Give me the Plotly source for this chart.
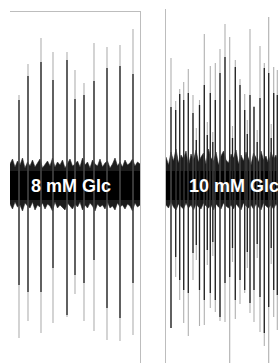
import plotly.graph_objects as go

# ---------------- data ----------------
# Panel 1: 8 mM glucose
glc8_spike_t = [9, 18, 31, 43, 57, 65, 74, 84, 97, 110, 123]
glc8_spike_peak = [95, 126, 152, 138, 138, 120, 107, 147, 143, 145, 161]
glc8_spike_trough = [-148, -131, -143, -133, -127, -104, -131, -141, -150, -151, -145]
glc8_core_peak = [90, 114, 128, 110, 130, 91, 95, 109, 122, 124, 116]
glc8_core_trough = [-95, -102, -102, -78, -125, -85, -93, -70, -118, -128, -93]
glc8_noise_t = [0, 2.5, 5, 7.5, 10, 12.5, 15, 17.5, 20, 22.5, 25, 27.5, 30, 32.5, 35, 37.5,
                40, 42.5, 45, 47.5, 50, 52.5, 55, 57.5, 60, 62.5, 65, 67.5, 70, 72.5, 75,
                77.5, 80, 82.5, 85, 87.5, 90, 92.5, 95, 97.5, 100, 102.5, 105, 107.5, 110,
                112.5, 115, 117.5, 120, 122.5, 125, 127.5, 130]
glc8_noise_hi = [26, 31, 23, 29, 25, 32, 22, 28, 24, 30, 23, 27, 31, 22, 26, 29, 24, 32, 23,
                 28, 25, 30, 22, 27, 31, 24, 26, 29, 23, 32, 25, 28, 22, 30, 26, 24, 31, 23,
                 27, 29, 22, 26, 32, 24, 28, 23, 30, 25, 27, 31, 24, 28, 26]
glc8_noise_lo = [-14, -19, -12, -17, -15, -21, -13, -16, -18, -12, -20, -15, -17, -13, -19,
                 -14, -16, -21, -12, -18, -15, -17, -20, -13, -16, -19, -14, -17, -12, -20,
                 -15, -18, -13, -16, -21, -14, -17, -15, -19, -12, -18, -16, -20, -13, -17,
                 -15, -19, -14, -16, -21, -13, -17, -15]
glc8_core_band = [19, -10]

# Panel 2: 10 mM glucose
glc10_spike_t = [5, 9.7, 13.7, 17.7, 22.3, 27, 30.3, 33.5, 38.3, 41.3, 44.3, 46.8, 49.3, 54,
                 59, 63.7, 66.5, 69.3, 74, 78.7, 81.3, 84, 88, 91.2, 94, 98.3, 102.7, 105.2,
                 107.7, 111.3]
glc10_spike_peak = [132, 89, 101, 108, 121, 95, 62, 90, 156, 68, 124, 58, 127, 141, 166, 153,
                    64, 130, 111, 96, 70, 161, 84, 60, 144, 127, 173, 66, 123, 120]
glc10_spike_trough = [-138, -87, -110, -133, -146, -90, -70, -136, -135, -75, -118, -66,
                      -122, -131, -132, -180, -72, -129, -114, -103, -78, -123, -132, -68,
                      -142, -156, -180, -74, -127, -140]
glc10_core_peak = [83, 80, 96, 90, 97, 77, 50, 85, 105, 55, 97, 48, 90, 117, 133, 90, 52, 123,
                   105, 80, 56, 95, 83, 48, 92, 122, 117, 52, 97, 95]
glc10_core_trough = [-138, -67, -90, -100, -103, -63, -55, -100, -110, -60, -103, -52, -110,
                     -127, -93, -87, -58, -110, -90, -100, -62, -113, -100, -54, -107, -143,
                     -117, -58, -100, -105]
glc10_noise_t = [0, 2.5, 5, 7.5, 10, 12.5, 15, 17.5, 20, 22.5, 25, 27.5, 30, 32.5, 35, 37.5,
                 40, 42.5, 45, 47.5, 50, 52.5, 55, 57.5, 60, 62.5, 65, 67.5, 70, 72.5, 75,
                 77.5, 80, 82.5, 85, 87.5, 90, 92.5, 95, 97.5, 100, 102.5, 105, 107.5, 110,
                 112]
glc10_noise_hi = [33, 25, 38, 29, 41, 27, 35, 31, 39, 24, 36, 30, 40, 28, 33, 37, 26, 41, 32,
                  29, 38, 25, 34, 39, 30, 27, 36, 32, 40, 26, 35, 29, 38, 31, 25, 37, 33, 28,
                  39, 30, 34, 26, 38, 31, 35, 29]
glc10_noise_lo = [-15, -18, -12, -17, -20, -14, -16, -19, -13, -18, -15, -20, -14, -17, -19,
                  -13, -16, -18, -15, -20, -14, -17, -19, -13, -16, -18, -15, -19, -14, -17,
                  -20, -13, -16, -18, -15, -19, -14, -17, -20, -13, -16, -18, -15, -19, -14,
                  -17]
glc10_core_band = [19, -10]

labels = ["8 mM Glc", "10 mM Glc"]


def segments(ts, a, b):
    xs, ys = [], []
    for t, p, q in zip(ts, a, b):
        xs += [t, t, None]
        ys += [p, q, None]
    return xs, ys


fig = go.Figure()


def add_panel(xa, ya, t, peak, trough, cpeak, ctrough, nt, nhi, nlo, core):
    # noisy envelope of the baseline
    fig.add_trace(go.Scatter(x=nt + nt[::-1], y=nhi + nlo[::-1], fill="toself",
                             fillcolor="#1c1c1c", mode="lines",
                             line=dict(color="#2a2a2a", width=0.6),
                             xaxis=xa, yaxis=ya, hoverinfo="skip"))
    # solid core of the baseline
    x0, x1 = nt[0], nt[-1]
    fig.add_trace(go.Scatter(x=[x0, x1, x1, x0], y=[core[0], core[0], core[1], core[1]],
                             fill="toself", fillcolor="black", mode="none",
                             xaxis=xa, yaxis=ya, hoverinfo="skip"))
    sx, sy = segments(t, peak, trough)
    fig.add_trace(go.Scatter(x=sx, y=sy, mode="lines",
                             line=dict(color="#b0b0b0", width=1.1),
                             xaxis=xa, yaxis=ya, hoverinfo="skip"))
    cx, cy = segments(t, cpeak, ctrough)
    fig.add_trace(go.Scatter(x=cx, y=cy, mode="lines",
                             line=dict(color="#222222", width=1.3),
                             xaxis=xa, yaxis=ya, hoverinfo="skip"))


add_panel("x", "y", glc8_spike_t, glc8_spike_peak, glc8_spike_trough, glc8_core_peak,
          glc8_core_trough, glc8_noise_t, glc8_noise_hi, glc8_noise_lo, glc8_core_band)
add_panel("x2", "y2", glc10_spike_t, glc10_spike_peak, glc10_spike_trough, glc10_core_peak,
          glc10_core_trough, glc10_noise_t, glc10_noise_hi, glc10_noise_lo, glc10_core_band)

W, H = 278, 363
axis_common = dict(showgrid=False, zeroline=False, showticklabels=False, ticks="",
                   fixedrange=True)

fig.update_layout(
    width=W, height=H,
    margin=dict(l=0, r=0, t=0, b=0),
    paper_bgcolor="white", plot_bgcolor="white",
    showlegend=False,
    xaxis=dict(domain=[10 / W, 140 / W], range=[0, 130], showline=True, side="top",
               linecolor="#bdbdbd", linewidth=1, anchor="y", **axis_common),
    yaxis=dict(domain=[0, (H - 12) / H], range=[-173, 178], showline=True, side="right",
               linecolor="#bdbdbd", linewidth=1, anchor="x", **axis_common),
    xaxis2=dict(domain=[166 / W, 1], range=[0, 112], showline=False, anchor="y2",
                **axis_common),
    yaxis2=dict(domain=[0, (H - 9) / H], range=[-173, 181], showline=True, side="left",
                linecolor="#bdbdbd", linewidth=1, anchor="x2", **axis_common),
    annotations=[
        dict(text="<b>" + labels[0] + "</b>", x=60.5, y=4, xref="x", yref="y",
             showarrow=False, xanchor="center", yanchor="middle",
             font=dict(family="Liberation Sans, Arial", size=18, color="white")),
        dict(text="<b>" + labels[1] + "</b>", x=20.5, y=4, xref="x2", yref="y2",
             showarrow=False, xanchor="left", yanchor="middle",
             font=dict(family="Liberation Sans, Arial", size=18, color="white")),
    ],
)

fig.write_html("out.html", config={"displayModeBar": False},
               post_script="document.body.style.margin='0';")
